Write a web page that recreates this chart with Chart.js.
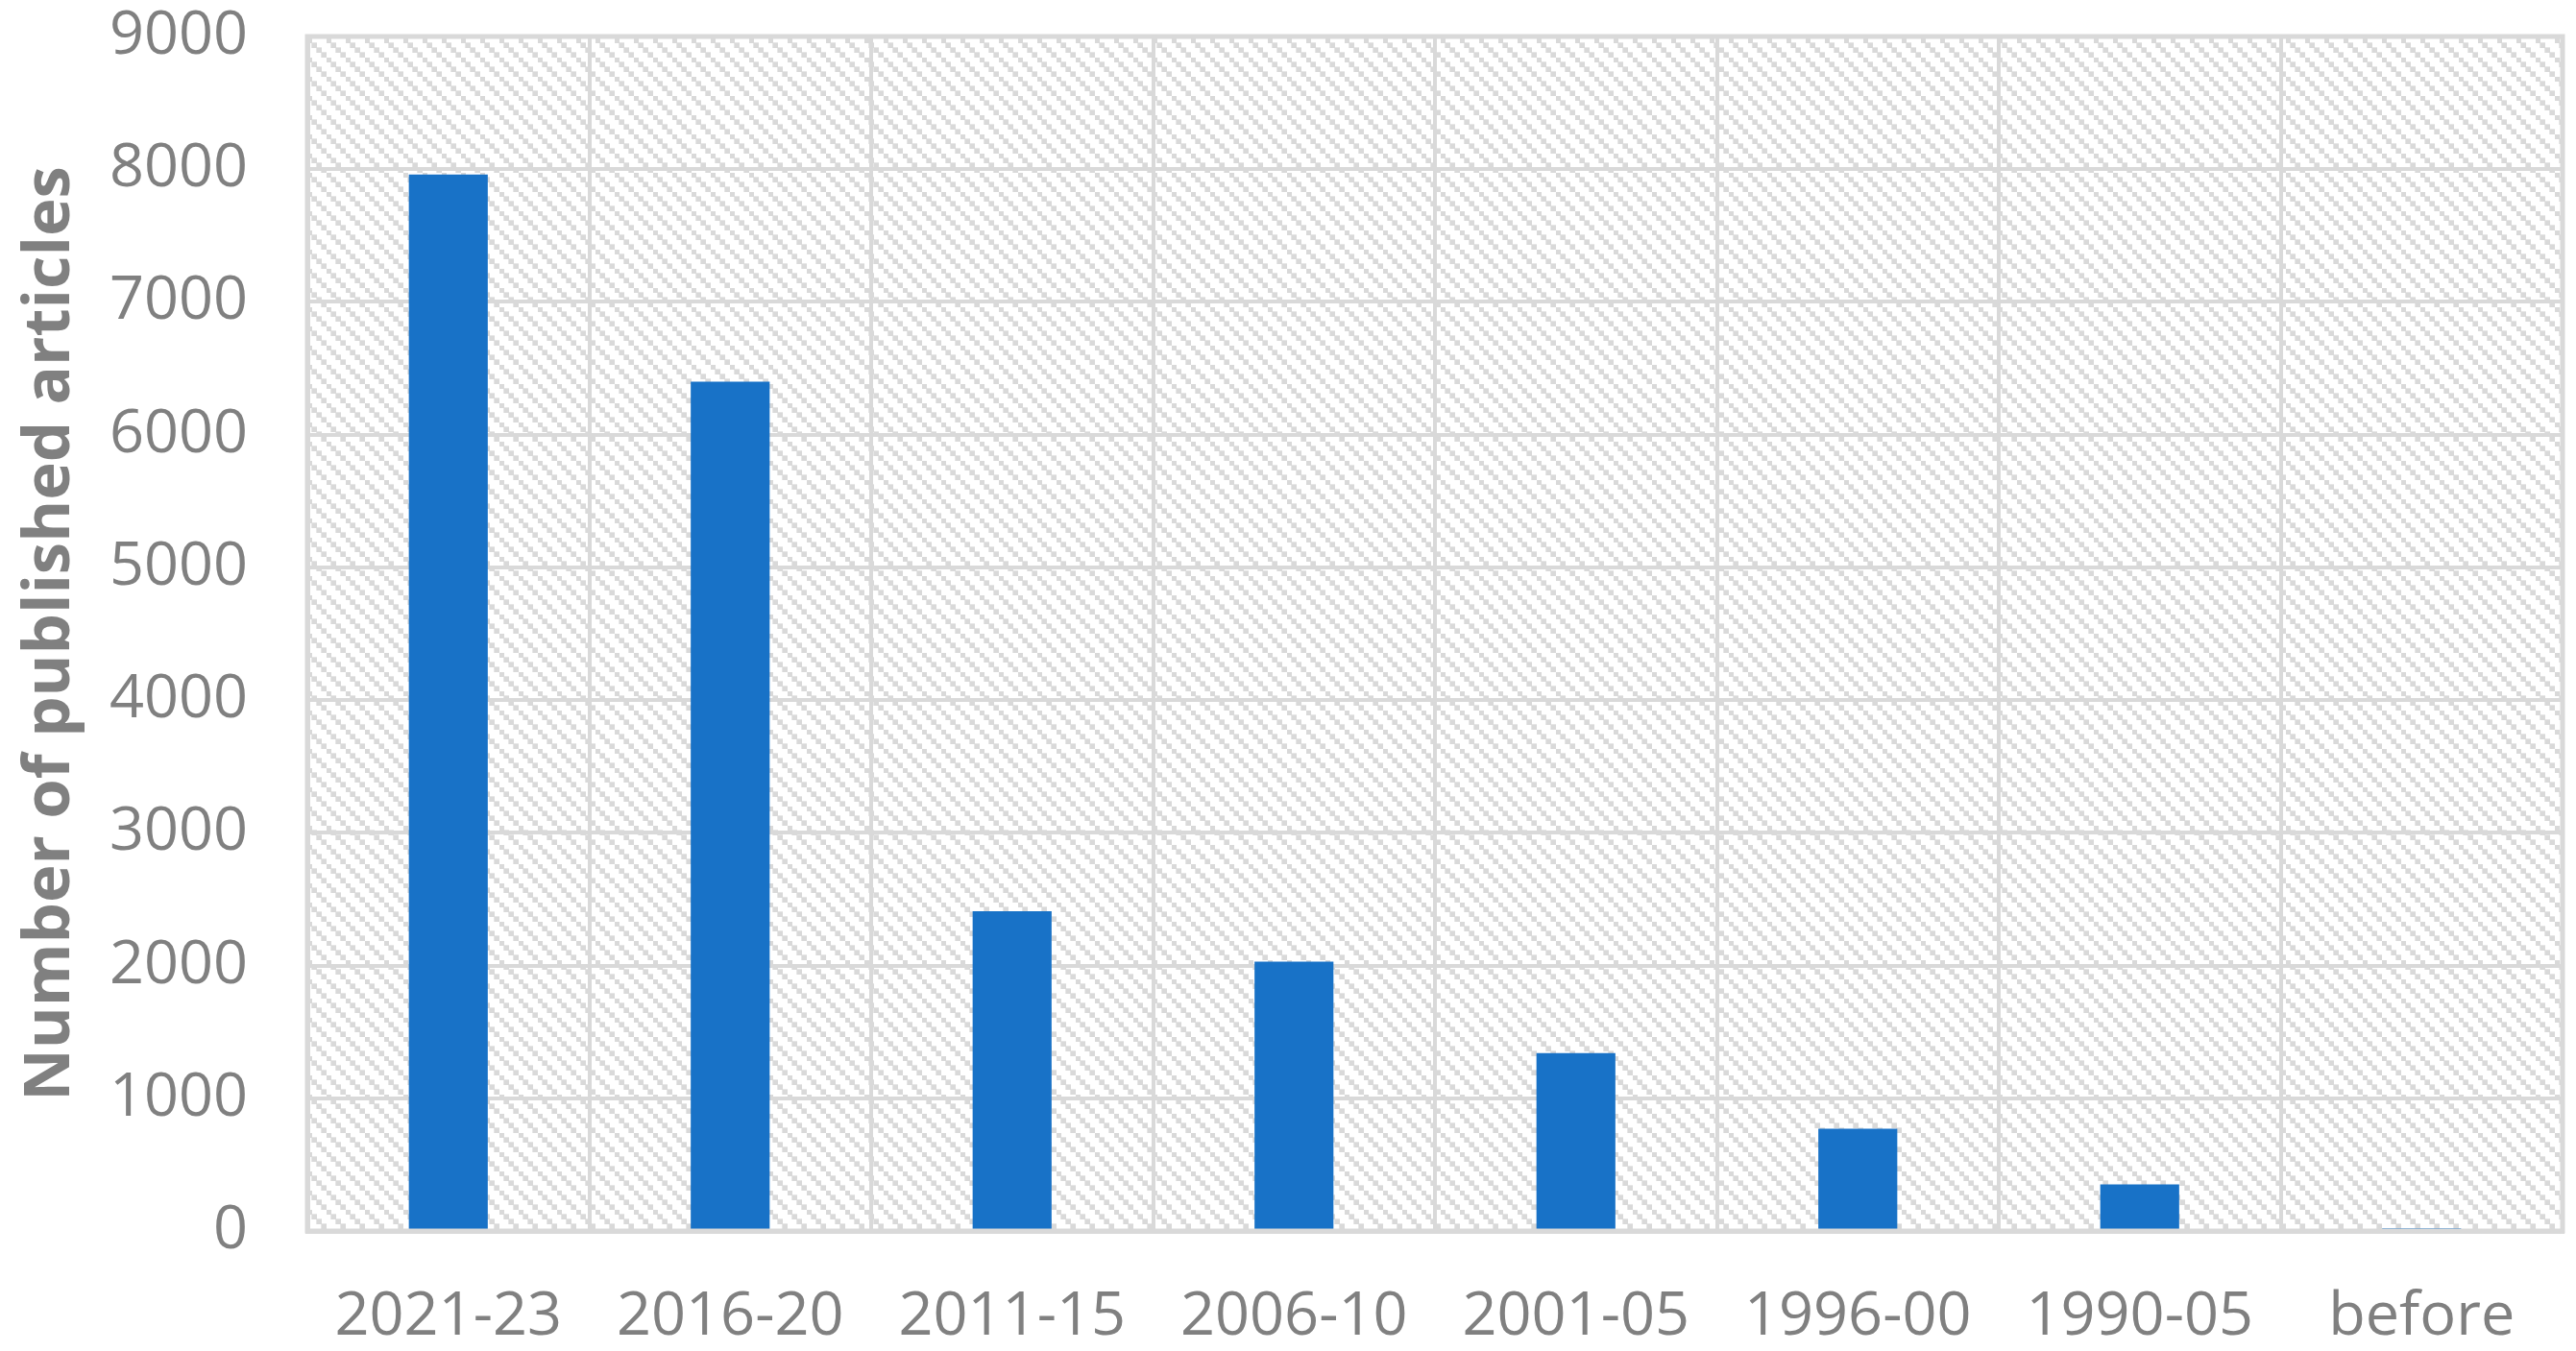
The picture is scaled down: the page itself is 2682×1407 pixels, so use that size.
<!DOCTYPE html>
<html>
<head>
<meta charset="utf-8">
<script src="https://cdn.jsdelivr.net/npm/chart.js@4/dist/chart.umd.min.js"></script>
<style>
  html, body { margin: 0; padding: 0; background: #ffffff; }
  #wrap { width: 2682px; height: 1407px; }
</style>
</head>
<body>
<div id="wrap"><canvas id="c" width="2682" height="1407"></canvas></div>
<script>
const categories = ["2021-23", "2016-20", "2011-15", "2006-10", "2001-05", "1996-00", "1990-05", "before"];
const articleCounts = [7960, 6400, 2410, 2030, 1340, 770, 350, 20];
const yTickValues = [0, 1000, 2000, 3000, 4000, 5000, 6000, 7000, 8000, 9000];
const yAxisTitle = "Number of published articles";

const GRID = '#d9d9d9';
const TEXT = '#808080';
const BAR = '#1872c7';

function makeHatch(ctx) {
  const c = document.createElement('canvas');
  c.width = 20; c.height = 20;
  const g = c.getContext('2d');
  g.fillStyle = '#ffffff';
  g.fillRect(0, 0, 20, 20);
  g.fillStyle = '#e6e6e6';
  for (let i = 0; i < 4; i++) g.fillRect(i * 5 - 1, i * 5 - 1, 6, 6);
  g.fillStyle = '#d9d9d9';
  for (let i = 0; i < 4; i++) g.fillRect(i * 5, i * 5, 5, 5);
  return ctx.createPattern(c, 'repeat');
}

const hatchPlugin = {
  id: 'hatch',
  beforeDraw(chart) {
    const { ctx, chartArea: a } = chart;
    ctx.save();
    ctx.fillStyle = makeHatch(ctx);
    ctx.fillRect(a.left, a.top, a.right - a.left, a.bottom - a.top);
    ctx.restore();
  },
  afterDatasetsDraw(chart) {
    const { ctx, chartArea: a } = chart;
    ctx.save();
    ctx.strokeStyle = GRID;
    ctx.lineWidth = 5;
    ctx.strokeRect(a.left, a.top, a.right - a.left, a.bottom - a.top);
    ctx.restore();
  }
};

new Chart(document.getElementById('c').getContext('2d'), {
  type: 'bar',
  data: {
    labels: categories,
    datasets: [{
      data: articleCounts,
      backgroundColor: BAR,
      borderWidth: 0,
      barPercentage: 0.28,
      categoryPercentage: 1.0
    }]
  },
  options: {
    responsive: false,
    animation: false,
    devicePixelRatio: 1,
    layout: { padding: { top: 38, right: 14, left: 0, bottom: 0 } },
    plugins: {
      legend: { display: false },
      tooltip: { enabled: false }
    },
    scales: {
      x: {
        offset: true,
        grid: { display: true, offset: true, color: GRID, lineWidth: 4, drawTicks: false },
        border: { display: true, color: GRID, width: 5 },
        ticks: {
          color: TEXT,
          padding: 52,
          maxRotation: 0,
          autoSkip: false,
          font: { family: "'Open Sans', sans-serif", size: 63 }
        },
        afterFit(scale) {
          scale.height = 125;
          scale.paddingLeft = 0; scale.paddingRight = 0;
        }
      },
      y: {
        min: 0,
        max: 9000,
        afterBuildTicks(scale) { scale.ticks = yTickValues.map(v => ({ value: v })); },
        grid: { color: GRID, lineWidth: 4, drawTicks: false },
        border: { display: true, color: GRID, width: 5 },
        ticks: {
          color: TEXT,
          padding: 62,
          callback: (v) => String(v),
          font: { family: "'Open Sans', sans-serif", size: 63 }
        },
        title: {
          display: true,
          text: yAxisTitle,
          color: TEXT,
          padding: { top: 13, bottom: 0 },
          font: { family: "'Open Sans', sans-serif", size: 67, weight: 'bold' }
        },
        afterFit(scale) {
          scale.width = 320;
          scale.paddingTop = 0; scale.paddingBottom = 0;
        }
      }
    }
  },
  plugins: [hatchPlugin]
});
</script>
</body>
</html>
